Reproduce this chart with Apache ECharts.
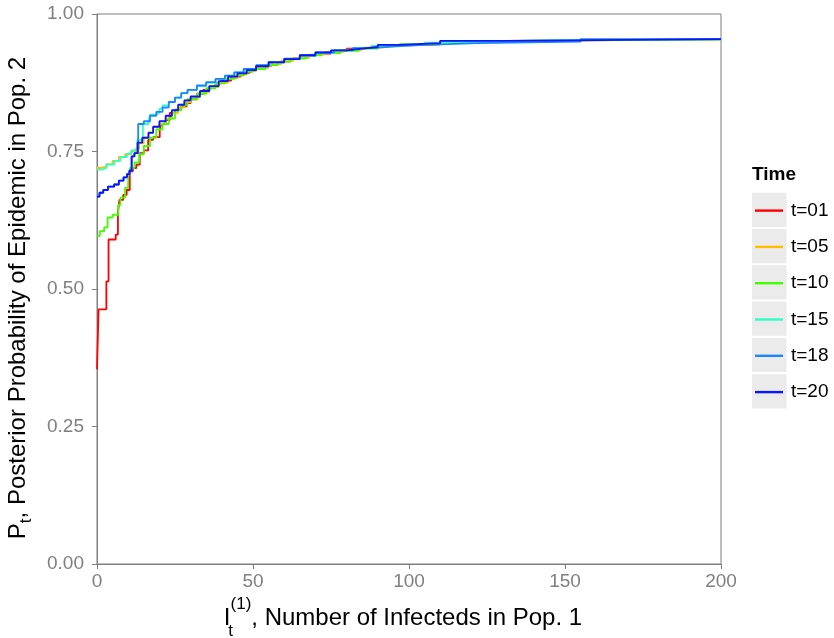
<!DOCTYPE html>
<html>
<head>
<meta charset="utf-8">
<script src="https://cdn.jsdelivr.net/npm/echarts@6/dist/echarts.min.js"></script>
<style>html,body{margin:0;padding:0;background:#fff;}#c{width:834px;height:638px;}</style>
</head>
<body>
<div id="c"></div>
<script>
// ---- data (I_t^(1), P_t) step breakpoints ----
var seriesNames = ['t=01', 't=05', 't=10', 't=15', 't=18', 't=20'];
var seriesColors = ['#FF0000', '#FFBF00', '#40FF00', '#2EFFC4', '#1C86FF', '#0A14FF'];
var xTicks = [0, 50, 100, 150, 200];
var yTicks = [0, 0.25, 0.5, 0.75, 1];

var t01 = [[0,0.354],[0.5,0.463],[3,0.514],[3.7,0.590],[6,0.599],[6.7,0.639],[7.2,0.662],[8.4,0.671],[9.5,0.68],[10.5,0.714],[11.5,0.72],[12.6,0.726],[13.7,0.747],[15,0.752],[16.4,0.771],[18,0.776],[20.1,0.789],[20.6,0.80],[22,0.807],[23.3,0.82],[25,0.826],[27,0.832],[28.7,0.838],[30,0.845],[32,0.855],[34,0.862],[36,0.868],[38,0.874],[40,0.879],[43,0.886],[46,0.893],[49,0.9],[52,0.906],[56,0.912],[60,0.918],[65,0.924],[70,0.928],[75,0.933],[80,0.937],[85,0.940],[90,0.943],[97,0.945],[110,0.951],[132,0.954],[200,0.954]];
var t05 = [[0,0.72],[1,0.722],[3,0.727],[5,0.733],[7,0.74],[9,0.745],[11,0.75],[12.5,0.755],[13.5,0.765],[15,0.775],[16.5,0.785],[18,0.795],[20,0.80],[22,0.81],[24,0.82],[26,0.83],[28,0.84],[30,0.848],[33,0.858],[36,0.867],[39,0.875],[42,0.883],[45,0.89],[48,0.896],[51,0.902],[55,0.909],[59,0.915],[63,0.92],[68,0.926],[73,0.931],[79,0.935],[85,0.939],[91,0.942],[97,0.945],[110,0.951],[132,0.954],[200,0.954]];
var t10 = [[0,0.596],[0.9,0.605],[2.3,0.612],[3.4,0.63],[5,0.635],[6.8,0.653],[7.5,0.666],[9,0.684],[10,0.705],[10.6,0.72],[12,0.73],[13.5,0.745],[15,0.76],[17,0.775],[19,0.79],[21,0.8],[23,0.81],[25,0.825],[27,0.835],[29,0.845],[32,0.855],[35,0.865],[38,0.874],[41,0.882],[44,0.888],[47,0.895],[50,0.9],[54,0.907],[58,0.913],[62,0.919],[67,0.925],[72,0.929],[78,0.933],[84,0.937],[90,0.941],[97,0.945],[110,0.951],[132,0.954],[200,0.954]];
var t15 = [[0,0.717],[1.5,0.72],[3,0.726],[5.5,0.733],[7.5,0.74],[9.6,0.746],[11,0.752],[12,0.755],[12.9,0.771],[14.7,0.80],[16.5,0.805],[17,0.817],[19,0.82],[20,0.828],[21,0.834],[23,0.84],[25,0.848],[27,0.856],[29,0.862],[32,0.869],[35,0.875],[38,0.882],[41,0.888],[44,0.894],[47,0.9],[51,0.906],[55,0.912],[60,0.918],[65,0.924],[70,0.929],[76,0.934],[82,0.938],[88,0.942],[95,0.944],[105,0.948],[112,0.951],[135,0.953],[155,0.954],[200,0.954]];
var t18 = [[0,0.668],[0.8,0.675],[2,0.68],[3.5,0.686],[5.5,0.69],[7,0.697],[8.5,0.703],[9.6,0.709],[10.4,0.715],[11.1,0.741],[12,0.747],[13.2,0.80],[15,0.805],[17,0.815],[19,0.822],[21,0.83],[23,0.84],[25,0.848],[27,0.856],[29,0.862],[32,0.87],[35,0.876],[38,0.882],[41,0.888],[44,0.894],[47,0.9],[51,0.907],[55,0.913],[60,0.919],[65,0.925],[70,0.93],[76,0.934],[82,0.938],[88,0.941],[95,0.944],[105,0.947],[122,0.95],[155,0.9545],[200,0.9545]];
var t20 = [[0,0.668],[0.8,0.675],[2,0.68],[3.5,0.686],[5.5,0.69],[7,0.697],[8.5,0.703],[9.6,0.709],[10.4,0.715],[11.1,0.741],[12,0.747],[13,0.766],[14.5,0.775],[16.5,0.784],[18,0.795],[20,0.805],[22,0.815],[24,0.825],[26,0.835],[28,0.843],[30,0.85],[33,0.86],[36,0.869],[39,0.878],[42,0.886],[45,0.892],[48,0.898],[51,0.905],[55,0.912],[60,0.918],[65,0.925],[70,0.93],[75,0.934],[80,0.937],[85,0.94],[90,0.944],[97,0.947],[110,0.951],[132,0.9545],[200,0.9545]];
var seriesData = [t01, t05, t10, t15, t18, t20];

var FONT = '"Liberation Sans", Arial, Helvetica, sans-serif';
var GRAY = '#7F7F7F';

var chart = echarts.init(document.getElementById('c'), null, {renderer: 'canvas'});

var keyBoxes = seriesNames.map(function (n, i) {
  return {type: 'rect', left: 752, top: 192.7 + i * 36.3, shape: {width: 34.5, height: 34.2}, style: {fill: '#EBEBEB'}, z: -1};
});

var option = {
  animation: false,
  backgroundColor: '#ffffff',
  grid: {left: 97, right: 113, top: 14, bottom: 74, show: true, borderColor: GRAY, borderWidth: 1, backgroundColor: 'transparent', containLabel: false, outerBoundsMode: 'none'},
  xAxis: {
    type: 'value', min: xTicks[0], max: xTicks[xTicks.length - 1], interval: 50,
    axisLine: {show: true, lineStyle: {color: GRAY, width: 1}},
    axisTick: {show: true, length: 5, lineStyle: {color: GRAY}},
    splitLine: {show: false},
    axisLabel: {color: GRAY, fontSize: 19, fontFamily: FONT, margin: 8},
    name: '{m|I}{sub|t}{sup|(1)}{m|, Number of Infecteds in Pop. 1}',
    nameLocation: 'middle', nameGap: 23,
    nameTextStyle: {
      color: '#000', fontFamily: FONT, fontSize: 24, padding: [0, 12, 0, 0],
      rich: {
        m: {fontSize: 24, fontFamily: FONT, color: '#000', lineHeight: 44, verticalAlign: 'middle'},
        sub: {fontSize: 17, fontFamily: FONT, color: '#000', lineHeight: 17, verticalAlign: 'bottom', width: 0},
        sup: {fontSize: 17, fontFamily: FONT, color: '#000', lineHeight: 17, verticalAlign: 'top'}
      }
    }
  },
  yAxis: {
    type: 'value', min: yTicks[0], max: yTicks[yTicks.length - 1], interval: 0.25,
    axisLine: {show: true, lineStyle: {color: GRAY, width: 1}},
    axisTick: {show: true, length: 5, lineStyle: {color: GRAY}},
    splitLine: {show: false},
    axisLabel: {color: GRAY, fontSize: 19, fontFamily: FONT, margin: 13, formatter: function (v) { return v.toFixed(2); }},
    name: '{m|P}{sub|t}{m|, Posterior Probability of Epidemic in Pop. 2}',
    nameLocation: 'middle', nameGap: 62, nameRotate: 90,
    nameTextStyle: {
      color: '#000', fontFamily: FONT, fontSize: 24, padding: [0, 18, 0, 0],
      rich: {
        m: {fontSize: 24, fontFamily: FONT, color: '#000', lineHeight: 34, verticalAlign: 'middle'},
        sub: {fontSize: 17, fontFamily: FONT, color: '#000', lineHeight: 17, verticalAlign: 'bottom'}
      }
    }
  },
  legend: {
    orient: 'vertical', left: 755, top: 193.5, padding: 0,
    itemWidth: 28, itemHeight: 2.4, itemGap: 2.1,
    icon: 'rect',
    data: seriesNames,
    textStyle: {fontFamily: FONT, fontSize: 19, color: '#000', lineHeight: 34.2, padding: [0, 0, 0, 3]},
    selectedMode: false
  },
  graphic: [{type: 'text', left: 752, top: 165, style: {text: 'Time', font: 'bold 19px ' + FONT, fill: '#000'}}].concat(keyBoxes),
  series: seriesNames.map(function (n, i) {
    return {
      name: n, type: 'line', step: 'end', data: seriesData[i],
      showSymbol: false, symbol: 'none', color: seriesColors[i],
      lineStyle: {color: seriesColors[i], width: 1.8}, clip: true
    };
  })
};
chart.setOption(option);
</script>
</body>
</html>
